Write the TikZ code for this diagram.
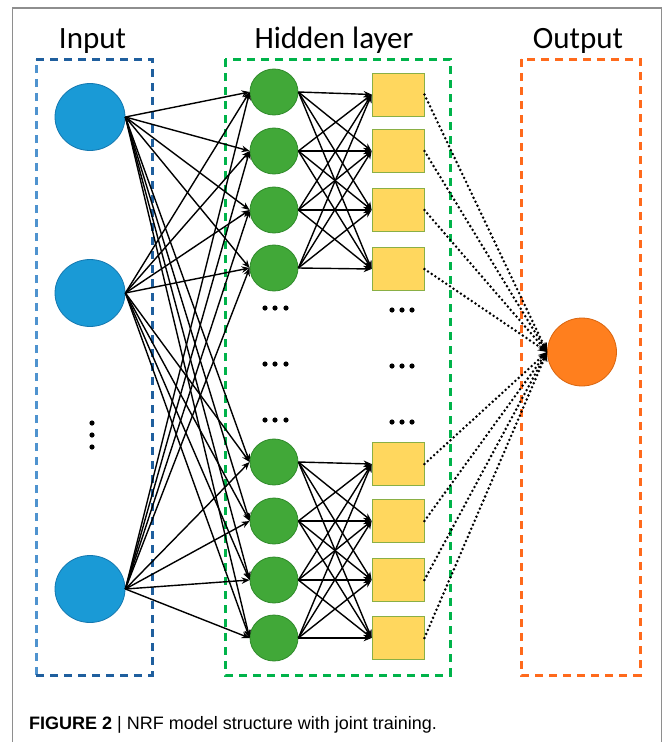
\documentclass[tikz,border=0pt]{standalone}
\usepackage{fontspec}
\setmainfont{Carlito}
\newfontfamily\capfont{Liberation Sans}
\usetikzlibrary{arrows.meta,shapes.geometric}
\definecolor{inblue}{HTML}{1A9AD6}
\definecolor{inblueedge}{HTML}{1478B0}
\definecolor{boxblue}{HTML}{1F5F9E}
\definecolor{boxbluel}{HTML}{4F93CF}
\definecolor{hgreen}{HTML}{41A838}
\definecolor{hgreenedge}{HTML}{2F8A2A}
\definecolor{boxgreen}{HTML}{00B34A}
\definecolor{sqfill}{HTML}{FFD75E}
\definecolor{sqedge}{HTML}{8AAF45}
\definecolor{outorange}{HTML}{FF7F1E}
\definecolor{outedge}{HTML}{D9650F}
\definecolor{boxorange}{HTML}{FF6A1C}
\definecolor{framegray}{HTML}{8E8E8E}
\tikzset{
  inode/.style={ellipse,draw=inblueedge,fill=inblue,line width=0.8pt,minimum width=70pt,minimum height=67pt,inner sep=0pt},
  gnode/.style={ellipse,draw=hgreenedge,fill=hgreen,line width=0.8pt,minimum width=48pt,minimum height=46pt,inner sep=0pt},
  snode/.style={rectangle,draw=sqedge,fill=sqfill,line width=0.8pt,minimum width=52pt,minimum height=43pt,inner sep=0pt},
  onode/.style={ellipse,draw=outedge,fill=outorange,line width=0.8pt,minimum width=69pt,minimum height=68pt,inner sep=0pt},
  dbox/.style={line width=3pt,dash pattern=on 8pt off 6pt},
  conn/.style={line width=1.4pt,-{Stealth[length=8pt,width=6.5pt]}},
  dotconn/.style={line width=2.8pt,line cap=round,dash pattern=on 0pt off 4.4pt,-{Stealth[length=9pt,width=8pt]}},
  ttl/.style={anchor=base,font=\fontsize{31}{34}\selectfont,text=black,inner sep=0pt},
  bigdot/.style={fill=black,draw=none}
}
\begin{document}
\begin{tikzpicture}[x=1pt,y=-1pt]
\useasboundingbox (0,0) rectangle (663,742);
\fill[white] (0,0) rectangle (663,742);
% frame
\draw[framegray,line width=1.6pt] (12.5,742) -- (12.5,8) -- (661.5,8) -- (661.5,742);
% titles
\node[ttl] (tin) at (92.5,48) {Input};
\node[ttl] (thid) at (334,48) {Hidden layer};
\node[ttl] (tout) at (578,48) {Output};
% dashed boxes
\draw[dbox,boxbluel] (36,675) -- (36,59);
\draw[dbox,boxblue] (36,59) -- (152,59) -- (152,675) -- (36,675);
\draw[dbox,boxgreen] (225,59) rectangle (450,675);
\draw[dbox,boxorange] (521,59) rectangle (640,675);
% input nodes
\node[inode] (i1) at (90,117) {};
\node[inode] (i2) at (90,293) {};
\node[inode] (i3) at (90,589) {};
% hidden circles
\foreach \n/\y in {1/92,2/151,3/210,4/268,5/462,6/521,7/580,8/638}
  \node[gnode] (g\n) at (274,\y) {};
% squares
\foreach \n/\y in {1/94.5,2/151,3/210,4/269,5/464,6/521,7/580,8/638}
  \node[snode] (s\n) at (398,\y) {};
% output
\node[onode] (o) at (582,352) {};
% input -> hidden
\foreach \i in {1,2,3}
  \foreach \g in {1,...,8}
    \draw[conn] (i\i.east) -- (g\g.west);
% hidden -> squares
\foreach \g in {1,...,4}
  \foreach \s in {1,...,4}
    \draw[conn] (g\g.east) -- (s\s.west);
\foreach \g in {5,...,8}
  \foreach \s in {5,...,8}
    \draw[conn] (g\g.east) -- (s\s.west);
% squares -> output
\foreach \s in {1,...,8}
  \draw[dotconn] (s\s.east) -- (o.west);
% ellipsis dots
\foreach \y in {308,364,420}{
  \foreach \x in {265,275,286}
    \fill[bigdot] (\x,\y) circle (2.6pt);
}
\foreach \y in {310,366,422}{
  \foreach \x in {392,402,412}
    \fill[bigdot] (\x,\y) circle (2.6pt);
}
\foreach \y in {423,435,447}
  \fill[bigdot] (92,\y) circle (2.6pt);
% caption
\node[anchor=base west,inner sep=0pt,font=\capfont\fontsize{18}{20}\selectfont] (cap) at (29,729.5)
  {\textbf{FIGURE 2} | NRF model structure with joint training.};
\end{tikzpicture}
\end{document}
